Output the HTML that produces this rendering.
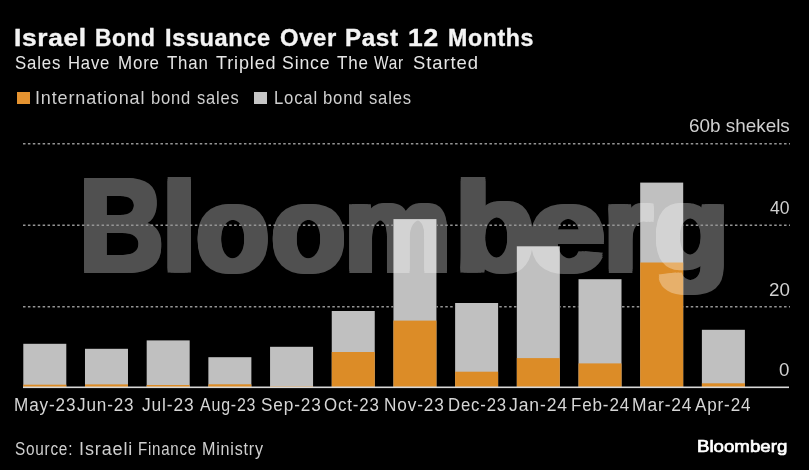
<!DOCTYPE html>
<html><head><meta charset="utf-8">
<style>
html,body{margin:0;padding:0;background:#000;}
body{width:809px;height:470px;position:relative;overflow:hidden;font-family:"Liberation Sans",sans-serif;}
.t{position:absolute;white-space:nowrap;transform-origin:0 0;line-height:normal;}
.sq{position:absolute;width:13px;height:12px;}
.title{-webkit-text-stroke:0.35px #f4f4f4;}
#logo{-webkit-text-stroke:0.7px #fff;}
#wm{position:absolute;left:0;top:0;width:809px;height:470px;opacity:0.315;}
.wl{position:absolute;top:149.8px;font-size:132px;font-weight:bold;color:#fff;-webkit-text-stroke:1.0px #fff;text-shadow:3.2px 0 #fff,-3.2px 0 #fff,0 2.0px #fff,0 -2.0px #fff,3.2px 2.0px #fff,-3.2px 2.0px #fff,3.2px -2.0px #fff,-3.2px -2.0px #fff;line-height:normal;transform-origin:0 0;white-space:nowrap;}
svg{position:absolute;left:0;top:0;}
</style></head><body>
<div id="title0" class="t title" style="left:14.47px;top:24.6px;font-size:23.2px;font-weight:bold;color:#f4f4f4;transform:scaleX(1.1344);letter-spacing:0.6px;">Israel</div><div id="title1" class="t title" style="left:94.92px;top:24.6px;font-size:23.2px;font-weight:bold;color:#f4f4f4;transform:scaleX(0.9797);letter-spacing:0.6px;">Bond</div><div id="title2" class="t title" style="left:164.58px;top:24.6px;font-size:23.2px;font-weight:bold;color:#f4f4f4;transform:scaleX(1.0167);letter-spacing:0.6px;">Issuance</div><div id="title3" class="t title" style="left:279.57px;top:24.6px;font-size:23.2px;font-weight:bold;color:#f4f4f4;transform:scaleX(1.0278);letter-spacing:0.6px;">Over</div><div id="title4" class="t title" style="left:345.46px;top:24.6px;font-size:23.2px;font-weight:bold;color:#f4f4f4;transform:scaleX(1.044);letter-spacing:0.6px;">Past</div><div id="title5" class="t title" style="left:407.56px;top:24.6px;font-size:23.2px;font-weight:bold;color:#f4f4f4;transform:scaleX(1.14);letter-spacing:0.6px;">12</div><div id="title6" class="t title" style="left:447.5px;top:24.6px;font-size:23.2px;font-weight:bold;color:#f4f4f4;transform:scaleX(0.9988);letter-spacing:0.6px;">Months</div><div id="sub0" class="t sub" style="left:14.69px;top:51.9px;font-size:18.5px;font-weight:normal;color:#e6e6e6;transform:scaleX(0.9082);letter-spacing:0.9px;">Sales</div><div id="sub1" class="t sub" style="left:68.4px;top:51.9px;font-size:18.5px;font-weight:normal;color:#e6e6e6;transform:scaleX(0.9);letter-spacing:0.9px;">Have</div><div id="sub2" class="t sub" style="left:118.19px;top:51.9px;font-size:18.5px;font-weight:normal;color:#e6e6e6;transform:scaleX(0.914);letter-spacing:0.9px;">More</div><div id="sub3" class="t sub" style="left:167.3px;top:51.9px;font-size:18.5px;font-weight:normal;color:#e6e6e6;transform:scaleX(0.9091);letter-spacing:0.9px;">Than</div><div id="sub4" class="t sub" style="left:215.6px;top:51.9px;font-size:18.5px;font-weight:normal;color:#e6e6e6;transform:scaleX(0.9733);letter-spacing:0.9px;">Tripled</div><div id="sub5" class="t sub" style="left:282.15px;top:51.9px;font-size:18.5px;font-weight:normal;color:#e6e6e6;transform:scaleX(0.9542);letter-spacing:0.9px;">Since</div><div id="sub6" class="t sub" style="left:336.7px;top:51.9px;font-size:18.5px;font-weight:normal;color:#e6e6e6;transform:scaleX(0.9182);letter-spacing:0.9px;">The</div><div id="sub7" class="t sub" style="left:373.8px;top:51.9px;font-size:18.5px;font-weight:normal;color:#e6e6e6;transform:scaleX(0.8286);letter-spacing:0.9px;">War</div><div id="sub8" class="t sub" style="left:412.9px;top:51.9px;font-size:18.5px;font-weight:normal;color:#e6e6e6;transform:scaleX(0.9984);letter-spacing:0.9px;">Started</div><div class="sq" style="left:17px;top:92px;background:#e59330"></div><div id="leg10" class="t leg1" style="left:35.17px;top:87.4px;font-size:18.6px;font-weight:normal;color:#cfcfcf;transform:scaleX(0.9673);letter-spacing:0.9px;">International</div><div id="leg11" class="t leg1" style="left:150.71px;top:87.4px;font-size:18.6px;font-weight:normal;color:#cfcfcf;transform:scaleX(0.8905);letter-spacing:0.9px;">bond</div><div id="leg12" class="t leg1" style="left:196.91px;top:87.4px;font-size:18.6px;font-weight:normal;color:#cfcfcf;transform:scaleX(0.887);letter-spacing:0.9px;">sales</div><div class="sq" style="left:254px;top:92px;background:#c6c6c6"></div><div id="leg20" class="t leg2" style="left:273.6px;top:87.4px;font-size:18.6px;font-weight:normal;color:#cfcfcf;transform:scaleX(0.8978);letter-spacing:0.9px;">Local</div><div id="leg21" class="t leg2" style="left:322.7px;top:87.4px;font-size:18.6px;font-weight:normal;color:#cfcfcf;transform:scaleX(0.9);letter-spacing:0.9px;">bond</div><div id="leg22" class="t leg2" style="left:368.91px;top:87.4px;font-size:18.6px;font-weight:normal;color:#cfcfcf;transform:scaleX(0.8935);letter-spacing:0.9px;">sales</div><svg width="809" height="470" viewBox="0 0 809 470">
<rect x="23.30" y="343.80" width="43.0" height="43.20" fill="#c0c0c0"/><rect x="23.30" y="384.70" width="43.0" height="2.30" fill="#dc8c27"/><rect x="84.99" y="348.80" width="43.0" height="38.20" fill="#c0c0c0"/><rect x="84.99" y="384.40" width="43.0" height="2.60" fill="#dc8c27"/><rect x="146.68" y="340.40" width="43.0" height="46.60" fill="#c0c0c0"/><rect x="146.68" y="385.00" width="43.0" height="2.00" fill="#dc8c27"/><rect x="208.37" y="357.20" width="43.0" height="29.80" fill="#c0c0c0"/><rect x="208.37" y="384.30" width="43.0" height="2.70" fill="#dc8c27"/><rect x="270.06" y="346.80" width="43.0" height="40.20" fill="#c0c0c0"/><rect x="270.06" y="386.40" width="43.0" height="0.60" fill="#dc8c27"/><rect x="331.75" y="311.00" width="43.0" height="76.00" fill="#c0c0c0"/><rect x="331.75" y="352.00" width="43.0" height="35.00" fill="#dc8c27"/><rect x="393.44" y="219.10" width="43.0" height="167.90" fill="#c0c0c0"/><rect x="393.44" y="320.60" width="43.0" height="66.40" fill="#dc8c27"/><rect x="455.13" y="303.00" width="43.0" height="84.00" fill="#c0c0c0"/><rect x="455.13" y="371.70" width="43.0" height="15.30" fill="#dc8c27"/><rect x="516.82" y="246.30" width="43.0" height="140.70" fill="#c0c0c0"/><rect x="516.82" y="358.10" width="43.0" height="28.90" fill="#dc8c27"/><rect x="578.51" y="279.20" width="43.0" height="107.80" fill="#c0c0c0"/><rect x="578.51" y="363.40" width="43.0" height="23.60" fill="#dc8c27"/><rect x="640.20" y="182.60" width="43.0" height="204.40" fill="#c0c0c0"/><rect x="640.20" y="262.50" width="43.0" height="124.50" fill="#dc8c27"/><rect x="701.89" y="329.80" width="43.0" height="57.20" fill="#c0c0c0"/><rect x="701.89" y="383.30" width="43.0" height="3.70" fill="#dc8c27"/>
<rect x="23" y="386.5" width="766" height="1.6" fill="#d8d8d8"/>
</svg><div id="y60" class="t" style="left:688.98px;top:115.3px;font-size:18.5px;font-weight:normal;color:#d0d0d0;transform:scaleX(1.0206);">60b shekels</div><div id="y40" class="t" style="left:770.2px;top:197.3px;font-size:18.5px;font-weight:normal;color:#d0d0d0;transform:scaleX(0.95);">40</div><div id="y20" class="t" style="left:768.88px;top:279.0px;font-size:18.5px;font-weight:normal;color:#d0d0d0;transform:scaleX(1.0158);">20</div><div id="y0" class="t" style="left:779.09px;top:359.1px;font-size:18.5px;font-weight:normal;color:#d0d0d0;transform:scaleX(1.0111);">0</div><div id="x0" class="t" style="left:14.05px;top:394.6px;font-size:18.0px;font-weight:normal;color:#d6d6d6;transform:scaleX(0.9524);letter-spacing:0.9px;">May-23</div><div id="x1" class="t" style="left:77.4px;top:394.6px;font-size:18.0px;font-weight:normal;color:#d6d6d6;transform:scaleX(0.9508);letter-spacing:0.9px;">Jun-23</div><div id="x2" class="t" style="left:141.8px;top:394.6px;font-size:18.0px;font-weight:normal;color:#d6d6d6;transform:scaleX(0.966);letter-spacing:0.9px;">Jul-23</div><div id="x3" class="t" style="left:200.0px;top:394.6px;font-size:18.0px;font-weight:normal;color:#d6d6d6;transform:scaleX(0.8871);letter-spacing:0.9px;">Aug-23</div><div id="x4" class="t" style="left:260.74px;top:394.6px;font-size:18.0px;font-weight:normal;color:#d6d6d6;transform:scaleX(0.9574);letter-spacing:0.9px;">Sep-23</div><div id="x5" class="t" style="left:324.16px;top:394.6px;font-size:18.0px;font-weight:normal;color:#d6d6d6;transform:scaleX(0.9368);letter-spacing:0.9px;">Oct-23</div><div id="x6" class="t" style="left:384.24px;top:394.6px;font-size:18.0px;font-weight:normal;color:#d6d6d6;transform:scaleX(0.9574);letter-spacing:0.9px;">Nov-23</div><div id="x7" class="t" style="left:447.67px;top:394.6px;font-size:18.0px;font-weight:normal;color:#d6d6d6;transform:scaleX(0.9295);letter-spacing:0.9px;">Dec-23</div><div id="x8" class="t" style="left:509.3px;top:394.6px;font-size:18.0px;font-weight:normal;color:#d6d6d6;transform:scaleX(0.9746);letter-spacing:0.9px;">Jan-24</div><div id="x9" class="t" style="left:570.85px;top:394.6px;font-size:18.0px;font-weight:normal;color:#d6d6d6;transform:scaleX(0.945);letter-spacing:0.9px;">Feb-24</div><div id="x10" class="t" style="left:631.83px;top:394.6px;font-size:18.0px;font-weight:normal;color:#d6d6d6;transform:scaleX(0.9683);letter-spacing:0.9px;">Mar-24</div><div id="x11" class="t" style="left:695.3px;top:394.6px;font-size:18.0px;font-weight:normal;color:#d6d6d6;transform:scaleX(0.9483);letter-spacing:0.9px;">Apr-24</div><div id="wm"><div class="wl" style="left:79.05px;transform-origin:0 122.70px;transform:scale(0.8898,1.0000)">B</div><div class="wl" style="left:162.34px;transform-origin:0 122.70px;transform:scale(0.9440,0.9498)">l</div><div class="wl" style="left:195.88px;transform-origin:0 122.70px;transform:scale(0.9104,0.9181)">o</div><div class="wl" style="left:270.85px;transform-origin:0 122.70px;transform:scale(0.9273,0.9181)">o</div><div class="wl" style="left:344.03px;transform-origin:0 122.70px;transform:scale(0.9148,0.9304)">m</div><div class="wl" style="left:454.85px;transform-origin:0 122.70px;transform:scale(0.9892,0.9498)">b</div><div class="wl" style="left:529.42px;transform-origin:0 122.70px;transform:scale(1.0414,0.9181)">e</div><div class="wl" style="left:602.99px;transform-origin:0 122.70px;transform:scale(0.9625,0.9304)">r</div><div class="wl" style="left:654.14px;transform-origin:0 94.57px;transform:scale(0.9315,0.8883)">g</div></div><svg width="809" height="470" viewBox="0 0 809 470"><defs><mask id="gm"><rect x="0" y="0" width="809" height="470" fill="#fff"/><rect x="23.30" y="343.80" width="43.0" height="43.20" fill="#000"/><rect x="84.99" y="348.80" width="43.0" height="38.20" fill="#000"/><rect x="146.68" y="340.40" width="43.0" height="46.60" fill="#000"/><rect x="208.37" y="357.20" width="43.0" height="29.80" fill="#000"/><rect x="270.06" y="346.80" width="43.0" height="40.20" fill="#000"/><rect x="331.75" y="311.00" width="43.0" height="76.00" fill="#000"/><rect x="393.44" y="219.10" width="43.0" height="167.90" fill="#000"/><rect x="455.13" y="303.00" width="43.0" height="84.00" fill="#000"/><rect x="516.82" y="246.30" width="43.0" height="140.70" fill="#000"/><rect x="578.51" y="279.20" width="43.0" height="107.80" fill="#000"/><rect x="640.20" y="182.60" width="43.0" height="204.40" fill="#000"/><rect x="701.89" y="329.80" width="43.0" height="57.20" fill="#000"/></mask></defs><g mask="url(#gm)"><line x1="23" y1="143.75" x2="790" y2="143.75" stroke="#959595" stroke-width="1.4" stroke-dasharray="2.5 2.41"/><line x1="23" y1="225.2" x2="790" y2="225.2" stroke="#959595" stroke-width="1.4" stroke-dasharray="2.5 2.41"/><line x1="23" y1="306.7" x2="790" y2="306.7" stroke="#959595" stroke-width="1.4" stroke-dasharray="2.5 2.41"/></g></svg><div id="src0" class="t src" style="left:14.56px;top:438.3px;font-size:18.3px;font-weight:normal;color:#cfcfcf;transform:scaleX(0.8394);letter-spacing:0.9px;">Source:</div><div id="src1" class="t src" style="left:78.83px;top:438.3px;font-size:18.3px;font-weight:normal;color:#cfcfcf;transform:scaleX(0.9843);letter-spacing:0.9px;">Israeli</div><div id="src2" class="t src" style="left:137.88px;top:438.3px;font-size:18.3px;font-weight:normal;color:#cfcfcf;transform:scaleX(0.8246);letter-spacing:0.9px;">Finance</div><div id="src3" class="t src" style="left:202.02px;top:438.3px;font-size:18.3px;font-weight:normal;color:#cfcfcf;transform:scaleX(0.8809);letter-spacing:0.9px;">Ministry</div><div id="logo" class="t" style="left:696.93px;top:436.1px;font-size:17.4px;font-weight:normal;color:#ffffff;transform:scaleX(1.0732);">Bloomberg</div>
</body></html>
